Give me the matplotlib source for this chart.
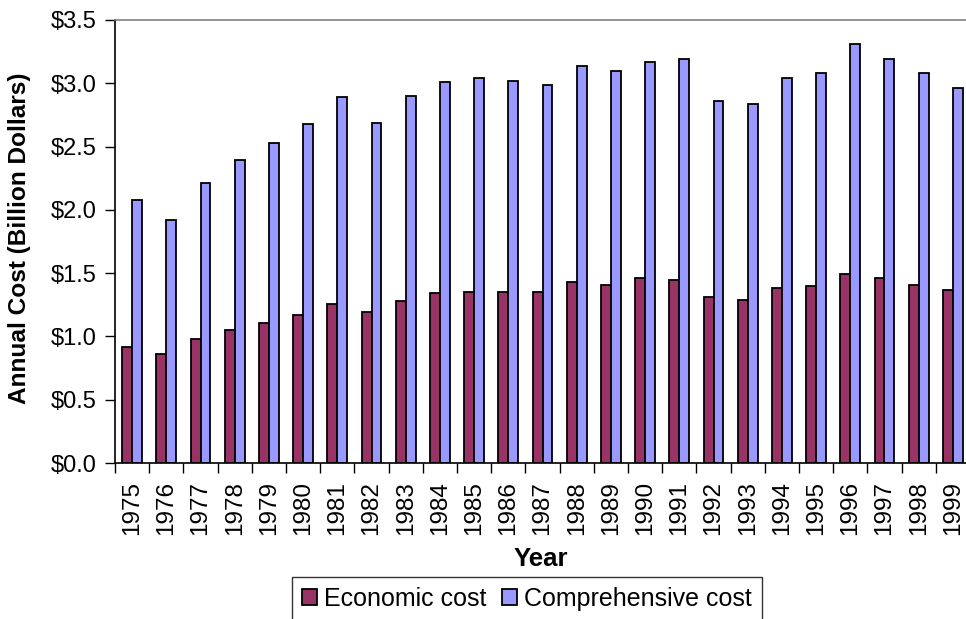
import matplotlib.pyplot as plt
import numpy as np

plt.rcParams['font.family'] = ['Liberation Sans', 'DejaVu Sans']

# values (billion dollars)
years = [str(y) for y in range(1975, 2000)]
economic = [0.92, 0.86, 0.98, 1.05, 1.11, 1.17, 1.26, 1.19, 1.28, 1.34, 1.35, 1.35, 1.35,
            1.43, 1.41, 1.46, 1.445, 1.31, 1.29, 1.385, 1.40, 1.49, 1.46, 1.41, 1.37]
comprehensive = [2.08, 1.92, 2.21, 2.39, 2.53, 2.68, 2.89, 2.69, 2.90, 3.01, 3.04, 3.02, 2.99,
                 3.14, 3.10, 3.17, 3.19, 2.86, 2.84, 3.04, 3.08, 3.31, 3.19, 3.08, 2.96]
y_ticks = [0.0, 0.5, 1.0, 1.5, 2.0, 2.5, 3.0, 3.5]

fig = plt.figure(figsize=(9.66, 6.19), dpi=100)
ax = fig.add_axes([115 / 966, 1 - 463 / 619, 855 / 966, 443 / 619])

x = np.arange(len(years))
w = 0.29
ax.bar(x - w / 2, economic, w, color='#993366', edgecolor='black', linewidth=1.3,
       label='Economic cost')
ax.bar(x + w / 2, comprehensive, w, color='#9999FF', edgecolor='black', linewidth=1.3,
       label='Comprehensive cost')

ax.set_xlim(-0.5, len(years) - 0.5)
ax.set_ylim(0, 3.5)
ax.set_yticks(y_ticks)
ax.set_yticklabels(['$%.1f' % v for v in y_ticks], fontsize=17)

# category labels in the middle, tick marks on the boundaries
ax.set_xticks(x)
ax.set_xticklabels(years, rotation=90, fontsize=17.5)
ax.tick_params(axis='x', which='major', length=0, pad=13)
ax.set_xticks(np.arange(-0.5, len(years)), minor=True)
ax.tick_params(axis='x', which='minor', length=7, width=1, direction='out')
ax.tick_params(axis='y', length=7, width=1, direction='out', pad=6)

ax.spines['right'].set_visible(False)
ax.spines['top'].set_color('#808080')
ax.spines['top'].set_linewidth(1.2)
ax.spines['left'].set_linewidth(1.2)
ax.spines['bottom'].set_linewidth(1.2)

fig.text(541 / 966, 1 - 559 / 619, 'Year', ha='center', va='center',
         fontsize=18.5, fontweight='bold')
fig.text(20 / 966, 1 - 238 / 619, 'Annual Cost (Billion Dollars)', ha='center',
         va='center', rotation=90, fontsize=17.6, fontweight='bold')

# legend box runs past the bottom edge, like the reference
leg = fig.legend(loc='upper center', bbox_to_anchor=(527 / 966, 1 - 577 / 619), ncol=2,
                 fontsize=18, frameon=True, fancybox=False, edgecolor='black',
                 handlelength=0.6, handleheight=0.6, handletextpad=0.3,
                 columnspacing=0.6, borderpad=0.4, borderaxespad=0)
leg.get_frame().set_linewidth(1.0)

fig.savefig('out.png', dpi=100)
plt.close(fig)
